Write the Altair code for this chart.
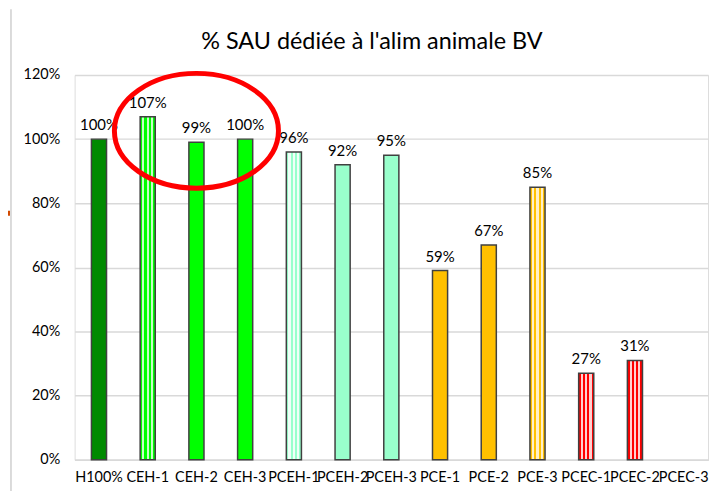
import altair as alt
import pandas as pd

categories = ["H100%", "CEH-1", "CEH-2", "CEH-3", "PCEH-1", "PCEH-2", "PCEH-3",
              "PCE-1", "PCE-2", "PCE-3", "PCEC-1", "PCEC-2", "PCEC-3"]
values = [1.00, 1.07, 0.99, 1.00, 0.96, 0.92, 0.95, 0.59, 0.67, 0.85, 0.27, 0.31, None]
base_colors = ["#008A00", "#00FF00", "#00FF00", "#00FF00", "#99FFCC", "#99FFCC", "#99FFCC",
               "#FFC000", "#FFC000", "#FFC000", "#FF0000", "#FF0000", "#FF0000"]
patterned = [False, True, False, False, True, False, False, False, False, True, True, True, True]
tints = {"#00FF00": "#c8ffc8", "#99FFCC": "#f0fff8", "#FFC000": "#fff0c8", "#FF0000": "#ffd0d0"}

df = pd.DataFrame({"cat": categories, "val": values, "color": base_colors, "pat": patterned})
df["label"] = df["val"].apply(lambda v: "" if pd.isna(v) else f"{round(v*100):.0f}%")

FONT = "Lato"
W, H = 637, 387

x_enc = alt.X("cat:N", sort=categories, title=None,
              scale=alt.Scale(paddingInner=0.69, paddingOuter=0.345),
              axis=alt.Axis(labelAngle=0, labelFont=FONT, labelFontSize=14.5, labelColor="#000000",
                            labelPadding=11, ticks=False, domain=True, domainColor="#d9d9d9",
                            domainWidth=1.5, labelOverlap=False, labelBound=False, grid=False))
y_enc = alt.Y("val:Q", title=None,
              scale=alt.Scale(domain=[0, 1.2], nice=False),
              axis=alt.Axis(format=".0%", values=[0, 0.2, 0.4, 0.6, 0.8, 1.0, 1.2],
                            labelFont=FONT, labelFontSize=14.5, labelColor="#000000",
                            labelPadding=15, ticks=False, domain=False,
                            grid=True, gridColor="#d9d9d9", gridWidth=1.5))

def stripes(color):
    stops = []
    n = 7
    tint = tints[color]
    for i in range(n):
        c = color if i % 2 == 0 else tint
        stops.append({"offset": i / n, "color": c})
        stops.append({"offset": (i + 1) / n, "color": c})
    return alt.LinearGradient(gradient="linear", stops=stops, x1=0, x2=1, y1=0, y2=0)

solid = alt.Chart(df).transform_filter("!datum.pat").mark_bar(
    stroke="#404040", strokeWidth=1.5).encode(
    x=x_enc, y=y_enc, fill=alt.Fill("color:N", scale=None))

layers = [solid]
for col in ["#00FF00", "#99FFCC", "#FFC000", "#FF0000"]:
    layers.append(
        alt.Chart(df).transform_filter(f"datum.pat && datum.color == '{col}'").mark_bar(
            stroke="#404040", strokeWidth=1.5, fill=stripes(col)).encode(x=x_enc, y=y_enc)
    )

labels = alt.Chart(df).mark_text(font=FONT, fontSize=15, baseline="bottom", dy=-6,
                                 color="#000000").encode(
    x=alt.X("cat:N", sort=categories), y="val:Q", text="label:N")

# red ellipse annotation
ell = pd.DataFrame({"cat": ["CEH-2"], "val": [1.026]})
ellipse = alt.Chart(ell).mark_point(
    shape="M -1 0 A 1 0.7 0 1 1 1 0 A 1 0.7 0 1 1 -1 0 Z",
    size=27225, stroke="#FF0000", strokeWidth=5, filled=False, opacity=1, dx=-5).encode(
    x=alt.X("cat:N", sort=categories), y="val:Q")

title_df = pd.DataFrame({"t": ["% SAU dédiée à l'alim animale BV"]})
title = alt.Chart(title_df).mark_text(font=FONT, fontSize=23.5, color="#000000",
                                      baseline="alphabetic", align="center").encode(
    text="t:N", x=alt.value(299), y=alt.value(-26))

border_df = pd.DataFrame({"k": [1]})
border = alt.Chart(border_df).mark_rule(color="#cfcfcf", strokeWidth=1.5).encode(
    x=alt.value(-64), y=alt.value(-66), y2=alt.value(H + 40))
orange = alt.Chart(border_df).mark_rule(color="#D24A00", strokeWidth=5).encode(
    x=alt.value(-75), x2=alt.value(-65), y=alt.value(139))

chart = alt.layer(*layers, labels, ellipse, title, border, orange).properties(
    width=W, height=H,
    autosize=alt.AutoSizeParams(type="none"),
    padding={"left": 67, "top": 66, "right": 4, "bottom": 30},
).configure_view(stroke=None).configure(background="white")

chart.save("out.html", embed_options={"renderer": "svg", "actions": False})
